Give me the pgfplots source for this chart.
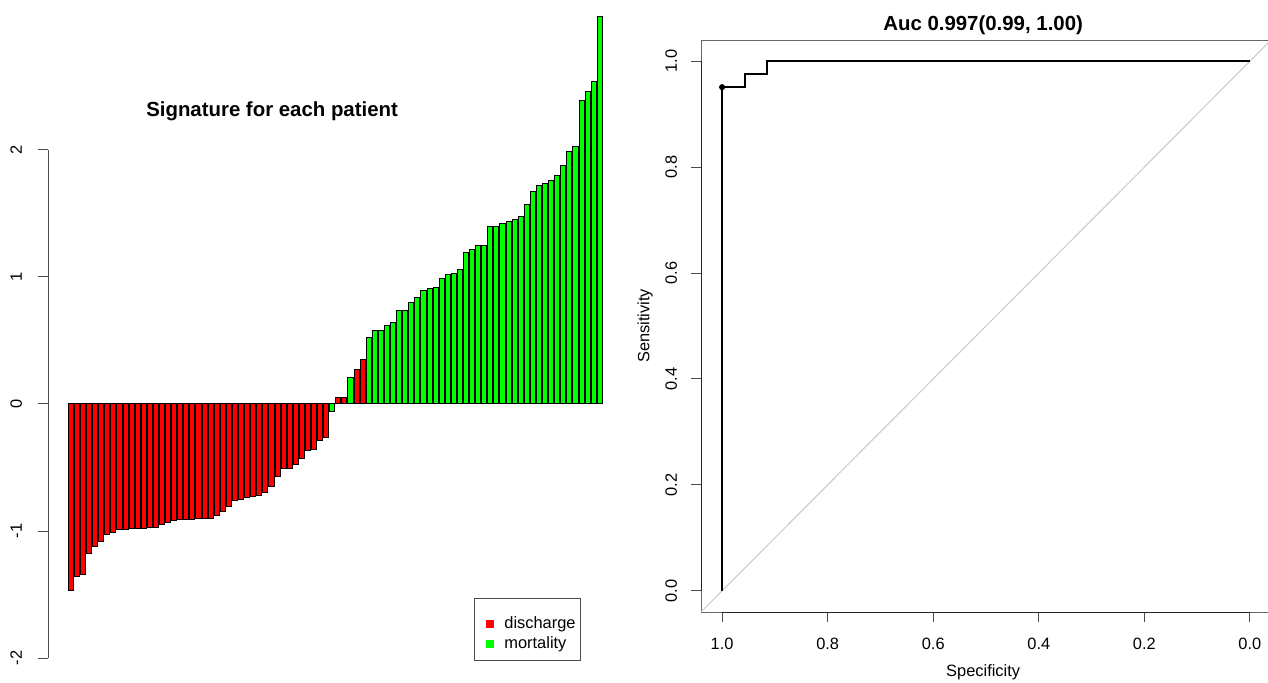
\documentclass[border=0pt]{standalone}
\usepackage{fontspec}
\setmainfont{Liberation Sans}
\usepackage{pgfplots}
\pgfplotsset{compat=1.18}
\newcommand{\tf}{\fontsize{8.2}{9.8}\selectfont}
\newcommand{\bt}{\bfseries\fontsize{10.2}{12}\selectfont}
\begin{document}
\begin{tikzpicture}
\path[use as bounding box] (0,0) rectangle (634pt,341pt);
\begin{axis}[
  at={(24pt,0pt)}, anchor=south west, scale only axis,
  width=281pt, height=341pt,
  xmin=-3.755, xmax=88.68, ymin=-2.189, ymax=3.181,
  axis line style={draw=none},
  xtick=\empty, ytick={-2,-1,0,1,2}, yticklabels={-2,-1,0,1,2},
  ytick pos=left, tick align=outside, major tick length=5pt,
  tick style={black!70, line width=0.5pt},
  yticklabel style={rotate=90, anchor=south, font=\tf, yshift=4.5pt},
  ybar, bar width=0.833, bar shift=0pt,
  clip=false,
  legend cell align=left,
  legend style={at={(axis cs:66.3,-1.528)}, anchor=north west,
    draw=black!70, line width=0.5pt, inner xsep=0pt, inner ysep=4.5pt,
    font=\tf, row sep=-2pt, column sep=2.5pt,
    nodes={inner xsep=2.7pt, inner ysep=0pt, text height=10.5pt, text depth=1.5pt}},
]
\addplot[draw=black, line width=0.5pt, fill=red, forget plot] coordinates {
(0,-1.47) (1,-1.36) (2,-1.34) (3,-1.18) (4,-1.12) (5,-1.08) (6,-1.03) (7,-1.01)
(8,-0.99) (9,-0.99) (10,-0.98) (11,-0.98) (12,-0.98) (13,-0.97) (14,-0.97) (15,-0.95)
(16,-0.93) (17,-0.92) (18,-0.91) (19,-0.91) (20,-0.91) (21,-0.905) (22,-0.905) (23,-0.90)
(24,-0.88) (25,-0.85) (26,-0.81) (27,-0.756) (28,-0.75) (29,-0.74) (30,-0.73) (31,-0.72)
(32,-0.70) (33,-0.65) (34,-0.57) (35,-0.51) (36,-0.51) (37,-0.48) (38,-0.43) (39,-0.37)
(40,-0.36) (41,-0.29) (42,-0.26) (44,0.05) (45,0.055) (47,0.275) (48,0.35)};
\addplot[draw=black, line width=0.5pt, fill=green, forget plot] coordinates {
(43,-0.06) (46,0.21) (49,0.525) (50,0.575) (51,0.575) (52,0.62) (53,0.64) (54,0.74)
(55,0.74) (56,0.80) (57,0.84) (58,0.89) (59,0.91) (60,0.92) (61,0.985) (62,1.02)
(63,1.03) (64,1.06) (65,1.19) (66,1.22) (67,1.245) (68,1.25) (69,1.40) (70,1.40)
(71,1.42) (72,1.435) (73,1.45) (74,1.475) (75,1.57) (76,1.67) (77,1.72) (78,1.74)
(79,1.76) (80,1.80) (81,1.88) (82,1.99) (83,2.03) (84,2.39) (85,2.46) (86,2.54) (87,3.05)};
\addlegendimage{legend image code/.code={\path (0pt,0pt); \fill[red] (5.9pt,-4.0pt) rectangle (9.3pt,-0.6pt);}}
\addlegendentry{discharge}
\addlegendimage{legend image code/.code={\path (0pt,0pt); \fill[green] (5.9pt,-4.0pt) rectangle (9.3pt,-0.6pt);}}
\addlegendentry{mortality}
\draw[black!70, line width=0.5pt] (axis cs:-3.755,-2) -- (axis cs:-3.755,2);
\node[font=\bt] at (axis cs:33.1,2.305) {Signature for each patient};
\end{axis}
\begin{axis}[
  at={(350.5pt,35pt)}, anchor=south west, scale only axis,
  width=285pt, height=286pt,
  x dir=reverse, xmin=-0.04, xmax=1.04, ymin=-0.04, ymax=1.04,
  axis line style={black!60, line width=0.5pt},
  xtick={0,0.2,0.4,0.6,0.8,1}, xticklabels={0.0,0.2,0.4,0.6,0.8,1.0},
  ytick={0,0.2,0.4,0.6,0.8,1}, yticklabels={0.0,0.2,0.4,0.6,0.8,1.0},
  xtick pos=bottom, ytick pos=left, tick align=outside, major tick length=5pt,
  tick style={black!70, line width=0.5pt},
  xticklabel style={font=\tf, yshift=-4.5pt},
  yticklabel style={rotate=90, anchor=south, font=\tf, yshift=3.5pt},
  xlabel={Specificity}, ylabel={Sensitivity},
  xlabel style={font=\tf, at={(axis description cs:0.495,-0.1049)}, anchor=center},
  ylabel style={font=\tf, at={(axis description cs:-0.0982,0.5)}, anchor=center},
  clip mode=individual,
]
\addplot[color={rgb,255:red,200;green,200;blue,200}, line width=0.5pt] coordinates {(1.04,-0.04) (-0.04,1.04)};
\addplot[black, line width=1pt] coordinates {(1,0) (1,0.951) (0.957,0.951) (0.957,0.976) (0.915,0.976) (0.915,1) (0,1)};
\addplot[only marks, mark=*, mark size=1.3pt, black] coordinates {(1,0.951)};
\draw[black!85, line width=0.5pt] (axis cs:1,-0.04) -- (axis cs:0,-0.04);
\draw[black!85, line width=0.5pt] (axis cs:1.04,0) -- (axis cs:1.04,1);
\node[font=\bt, yshift=7.5pt] at (rel axis cs:0.495,1) {Auc 0.997(0.99, 1.00)};
\end{axis}
\end{tikzpicture}
\end{document}
